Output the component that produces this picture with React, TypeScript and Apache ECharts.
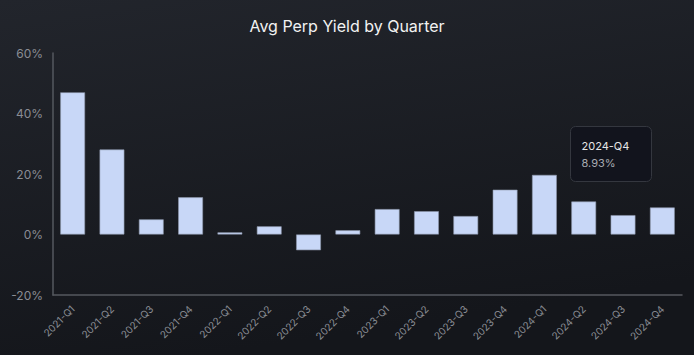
import React, { useEffect, useRef } from "react";
import * as echarts from "echarts";

const categories = [
  "2021-Q1", "2021-Q2", "2021-Q3", "2021-Q4",
  "2022-Q1", "2022-Q2", "2022-Q3", "2022-Q4",
  "2023-Q1", "2023-Q2", "2023-Q3", "2023-Q4",
  "2024-Q1", "2024-Q2", "2024-Q3", "2024-Q4",
];
const yieldValues = [
  47.0, 28.1, 5.0, 12.3,
  0.7, 2.7, -5.2, 1.4,
  8.4, 7.7, 6.1, 14.8,
  19.7, 10.9, 6.4, 8.93,
];
const tooltipIndex = 15;

export default function App() {
  const ref = useRef<HTMLDivElement>(null);
  useEffect(() => {
    document.body.style.margin = "0";
    const chart = echarts.init(ref.current!, undefined, { renderer: "svg" });
    const font = "Inter, 'Noto Sans', sans-serif";
    chart.setOption({
      animation: false,
      backgroundColor: new echarts.graphic.LinearGradient(0, 0, 0.3, 1, [
        { offset: 0, color: "#22252c" },
        { offset: 1, color: "#14161b" },
      ]),
      title: {
        text: "Avg Perp Yield by Quarter",
        left: "center",
        top: 13,
        textStyle: { color: "#f2f2f2", fontSize: 16, fontWeight: "normal", fontFamily: font },
      },
      grid: { left: 53, right: 12, top: 53, bottom: 60 },
      xAxis: {
        type: "category",
        data: categories,
        axisLine: { onZero: false, lineStyle: { color: "#55585f", width: 1.5 } },
        axisTick: { show: false },
        axisLabel: {
          rotate: 45,
          color: "#8a8d94",
          fontSize: 10,
          fontFamily: font,
          margin: 12,
          interval: 0,
        },
      },
      yAxis: {
        type: "value",
        min: -20,
        max: 60,
        interval: 20,
        axisLine: { show: true, lineStyle: { color: "#55585f", width: 1.5 } },
        axisTick: { show: false },
        splitLine: { show: false },
        axisLabel: {
          formatter: "{value}%",
          color: "#8a8d94",
          fontSize: 12,
          fontFamily: font,
          margin: 10,
        },
      },
      series: [
        {
          type: "bar",
          data: yieldValues,
          barWidth: "63%",
          itemStyle: { color: "#c8d7f7", borderColor: "#8e98ad", borderWidth: 0.6 },
        },
      ],
      graphic: [
        {
          type: "group",
          left: 570,
          top: 126,
          children: [
            {
              type: "rect",
              shape: { x: 0, y: 0, width: 81, height: 55, r: 5 },
              style: { fill: "#12141d", stroke: "#34373f", lineWidth: 1 },
            },
            {
              type: "text",
              x: 11,
              y: 14,
              style: {
                text: categories[tooltipIndex],
                fill: "#e6e6e6",
                fontSize: 11,
                fontFamily: font,
              },
            },
            {
              type: "text",
              x: 11,
              y: 31,
              style: {
                text: yieldValues[tooltipIndex].toFixed(2) + "%",
                fill: "#a8abb2",
                fontSize: 11,
                fontFamily: font,
              },
            },
          ],
        },
      ],
    });
    return () => chart.dispose();
  }, []);
  return <div ref={ref} style={{ width: 694, height: 355 }} />;
}
